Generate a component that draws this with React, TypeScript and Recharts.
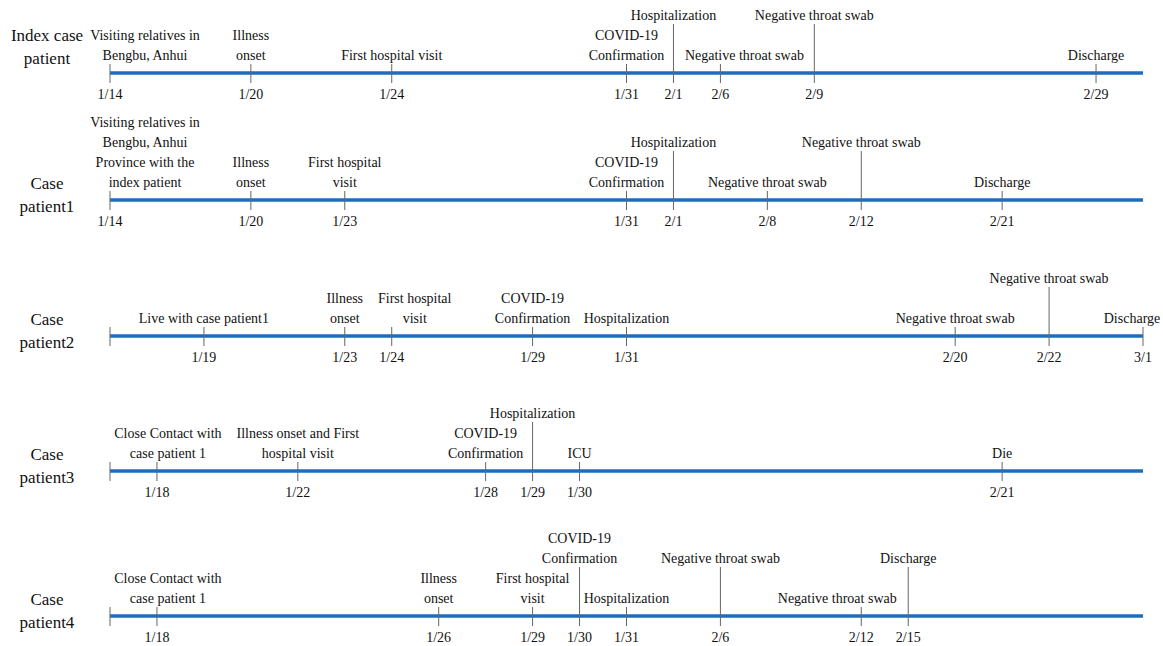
import { ReferenceLine, Scatter, ScatterChart, XAxis, YAxis } from 'recharts';

// every date that appears anywhere; the timeline is spaced by order, not by day
const DATES = [
  '1/14', '1/18', '1/19', '1/20', '1/22', '1/23', '1/24', '1/26', '1/28', '1/29', '1/30', '1/31',
  '2/1', '2/6', '2/8', '2/9', '2/12', '2/15', '2/20', '2/21', '2/22', '2/29', '3/1',
];

const ROW_NAMES = [
  ['Index case', 'patient'],
  ['Case', 'patient1'],
  ['Case', 'patient2'],
  ['Case', 'patient3'],
  ['Case', 'patient4'],
];

interface TimelineEvent {
  date: string;
  label: string[];
  raised?: boolean;
}

const INDEX_EVENTS: TimelineEvent[] = [
  { date: '1/14', label: ['Visiting relatives in', 'Bengbu, Anhui'] },
  { date: '1/20', label: ['Illness', 'onset'] },
  { date: '1/24', label: ['First hospital visit'] },
  { date: '1/31', label: ['COVID-19', 'Confirmation'] },
  { date: '2/1', label: ['Hospitalization'], raised: true },
  { date: '2/6', label: ['Negative throat swab'] },
  { date: '2/9', label: ['Negative throat swab'], raised: true },
  { date: '2/29', label: ['Discharge'] },
];

const CASE1_EVENTS: TimelineEvent[] = [
  { date: '1/14', label: ['Visiting relatives in', 'Bengbu, Anhui', 'Province with the', 'index patient'] },
  { date: '1/20', label: ['Illness', 'onset'] },
  { date: '1/23', label: ['First hospital', 'visit'] },
  { date: '1/31', label: ['COVID-19', 'Confirmation'] },
  { date: '2/1', label: ['Hospitalization'], raised: true },
  { date: '2/8', label: ['Negative throat swab'] },
  { date: '2/12', label: ['Negative throat swab'], raised: true },
  { date: '2/21', label: ['Discharge'] },
];

const CASE2_EVENTS: TimelineEvent[] = [
  { date: '1/14', label: [] },
  { date: '1/19', label: ['Live with case patient1'] },
  { date: '1/23', label: ['Illness', 'onset'] },
  { date: '1/24', label: ['First hospital', 'visit'] },
  { date: '1/29', label: ['COVID-19', 'Confirmation'] },
  { date: '1/31', label: ['Hospitalization'] },
  { date: '2/20', label: ['Negative throat swab'] },
  { date: '2/22', label: ['Negative throat swab'], raised: true },
  { date: '3/1', label: ['Discharge'] },
];

const CASE3_EVENTS: TimelineEvent[] = [
  { date: '1/14', label: [] },
  { date: '1/18', label: ['Close Contact with', 'case patient 1'] },
  { date: '1/22', label: ['Illness onset and First', 'hospital visit'] },
  { date: '1/28', label: ['COVID-19', 'Confirmation'] },
  { date: '1/29', label: ['Hospitalization'], raised: true },
  { date: '1/30', label: ['ICU'] },
  { date: '2/21', label: ['Die'] },
];

const CASE4_EVENTS: TimelineEvent[] = [
  { date: '1/14', label: [] },
  { date: '1/18', label: ['Close Contact with', 'case patient 1'] },
  { date: '1/26', label: ['Illness', 'onset'] },
  { date: '1/29', label: ['First hospital', 'visit'] },
  { date: '1/30', label: ['COVID-19', 'Confirmation'], raised: true },
  { date: '1/31', label: ['Hospitalization'] },
  { date: '2/6', label: ['Negative throat swab'], raised: true },
  { date: '2/12', label: ['Negative throat swab'] },
  { date: '2/15', label: ['Discharge'], raised: true },
];

const ROWS = [INDEX_EVENTS, CASE1_EVENTS, CASE2_EVENTS, CASE3_EVENTS, CASE4_EVENTS];

// layout only: where each row sits on the page and where its line runs
const ROW_LAYOUT = [
  { top: 0, height: 110, lineY: 73 },
  { top: 110, height: 140, lineY: 90 },
  { top: 250, height: 136, lineY: 86 },
  { top: 386, height: 140, lineY: 85 },
  { top: 526, height: 120, lineY: 90 },
];

// labels nudged sideways so they clear neighbouring ticks
const LABEL_DX: Record<string, number> = {
  '0:1/14': 35,
  '0:2/6': 24,
  '1:1/14': 35,
  '2:1/24': 23,
  '2:3/1': -11,
  '3:1/18': 11,
  '4:1/18': 11,
  '4:2/12': -24,
};

const FONT = '"Liberation Serif", "Times New Roman", serif';
const LINE_H = 20;
const BLUE = '#1C6DC2';

function EventMark(props: any) {
  const { cx, cy, payload, row } = props;
  const ev = payload as TimelineEvent;
  const dx = LABEL_DX[`${row}:${ev.date}`] ?? 0;
  const bottom = cy - 13 - (ev.raised ? LINE_H * 2 : 0);
  const n = ev.label.length;
  return (
    <g>
      <line x1={cx} x2={cx} y1={ev.raised ? cy - 49 : cy - 9} y2={cy + 10} stroke="#666" strokeWidth={1} />
      {ev.label.map((t, i) => (
        <text key={i} x={cx + dx} y={bottom - (n - 1 - i) * LINE_H} textAnchor="middle" fontFamily={FONT} fontSize={14} fill="#111">
          {t}
        </text>
      ))}
      {n > 0 && (
        <text x={cx} y={cy + 26} textAnchor="middle" fontFamily={FONT} fontSize={14} fill="#111">
          {ev.date}
        </text>
      )}
    </g>
  );
}

function RowName(props: any) {
  const { y, row } = props;
  const [a, b] = ROW_NAMES[row];
  const first = row === 0 ? y - 32 : y - 11;
  return (
    <g>
      <text x={47} y={first} textAnchor="middle" fontFamily={FONT} fontSize={17} fill="#111">{a}</text>
      <text x={47} y={first + 23} textAnchor="middle" fontFamily={FONT} fontSize={17} fill="#111">{b}</text>
    </g>
  );
}

export default function App() {
  return (
    <div style={{ position: 'absolute', left: 0, top: 0, width: 1163, height: 646, background: '#fff' }}>
      {ROWS.map((events, row) => {
        const lay = ROW_LAYOUT[row];
        const data = events.map((e) => ({ ...e, x: DATES.indexOf(e.date), y: 0 }));
        return (
          <div key={row} style={{ position: 'absolute', left: 0, top: lay.top }}>
            <ScatterChart width={1163} height={lay.height} margin={{ top: 0, right: 20, bottom: lay.height - lay.lineY, left: 0 }}>
              <XAxis type="number" dataKey="x" domain={[0, DATES.length - 1]} hide />
              <YAxis
                type="number"
                dataKey="y"
                domain={[0, 1]}
                ticks={[0]}
                width={110}
                axisLine={false}
                tickLine={false}
                tick={(p: any) => <RowName {...p} row={row} />}
              />
              <ReferenceLine y={0} stroke={BLUE} strokeWidth={3.5} />
              <Scatter data={data} isAnimationActive={false} shape={(p: any) => <EventMark {...p} row={row} />} />
            </ScatterChart>
          </div>
        );
      })}
    </div>
  );
}
